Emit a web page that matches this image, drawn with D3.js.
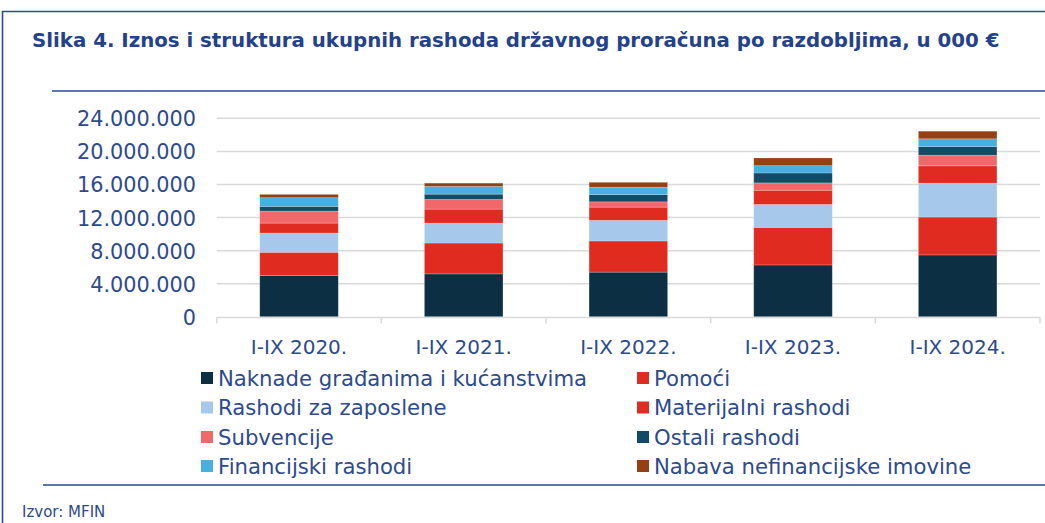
<!DOCTYPE html>
<html>
<head>
<meta charset="utf-8">
<script src="https://cdn.jsdelivr.net/npm/d3@7"></script>
<style>
  html, body { margin: 0; padding: 0; background: #ffffff; }
  svg { display: block; }
</style>
</head>
<body>
<svg id="chart" width="1045" height="523"></svg>
<script>
// ---- Data (u 000 €) ----
const categories = ["I-IX 2020.", "I-IX 2021.", "I-IX 2022.", "I-IX 2023.", "I-IX 2024."];
const seriesNames = [
  "Naknade građanima i kućanstvima",
  "Pomoći",
  "Rashodi za zaposlene",
  "Materijalni rashodi",
  "Subvencije",
  "Ostali rashodi",
  "Financijski rashodi",
  "Nabava nefinancijske imovine"
];
const naknade     = [5000000, 5190000, 5400000, 6270000, 7480000];
const pomoci      = [2800000, 3730000, 3770000, 4540000, 4580000];
const zaposlene   = [2330000, 2410000, 2490000, 2770000, 4100000];
const materijalni = [1200000, 1690000, 1600000, 1720000, 2100000];
const subvencije  = [1450000, 1170000,  640000,  890000, 1280000];
const ostali      = [ 570000,  640000,  880000, 1200000, 1050000];
const financijski = [1050000,  930000,  880000,  880000,  930000];
const nabava      = [ 400000,  400000,  600000,  930000,  920000];
const yTicks = [0, 4000000, 8000000, 12000000, 16000000, 20000000, 24000000];

const seriesValues = [naknade, pomoci, zaposlene, materijalni, subvencije, ostali, financijski, nabava];
const seriesColors = ["#0d2f43", "#e02c20", "#a6c8ea", "#e02c20", "#f0686a", "#134a66", "#47b0e0", "#953f13"];

const textBlue = "#24418c";
const svg = d3.select("#chart");

// ---- Frame ----
svg.append("path")
  .attr("d", "M2.5,523 L2.5,11.5 L1045,11.5")
  .attr("fill", "none").attr("stroke", "#2a4a94").attr("stroke-width", 1.6);
svg.append("line").attr("x1", 52).attr("x2", 1045).attr("y1", 91).attr("y2", 91)
  .attr("stroke", "#2a4a94").attr("stroke-width", 1.6);
svg.append("line").attr("x1", 43).attr("x2", 1045).attr("y1", 485).attr("y2", 485)
  .attr("stroke", "#2a4a94").attr("stroke-width", 1.6);

// ---- Title ----
const title = svg.append("text")
  .attr("x", 32).attr("y", 47)
  .attr("font-family", "'DejaVu Sans', sans-serif")
  .attr("font-weight", "bold")
  .attr("font-size", 19)
  .attr("fill", textBlue)
  .text("Slika 4. Iznos i struktura ukupnih rashoda državnog proračuna po razdobljima, u 000 €");
{
  const len = title.node().getComputedTextLength();
  title.attr("font-size", 19 * 968 / len);
}

// ---- Scales ----
const x = d3.scaleBand().domain(categories).range([216.7, 1040]).paddingInner(0.523).paddingOuter(0.2615);
const y = d3.scaleLinear().domain([0, 24000000]).range([316.8, 118.3]);

const locale = d3.formatLocale({ decimal: ",", thousands: ".", grouping: [3], currency: ["", " €"] });
const fmt = locale.format(",d");

// ---- Gridlines ----
svg.append("g").selectAll("line").data(yTicks.filter(d => d > 0)).join("line")
  .attr("x1", 216.7).attr("x2", 1040)
  .attr("y1", d => y(d)).attr("y2", d => y(d))
  .attr("stroke", "#d9d9d9").attr("stroke-width", 1.5);

// ---- Y axis labels ----
const yAxis = d3.axisLeft(y).tickValues(yTicks).tickFormat(fmt).tickSize(0).tickPadding(0);
const gy = svg.append("g").attr("transform", "translate(196,0)").call(yAxis);
gy.select(".domain").remove();
gy.selectAll("text")
  .attr("font-family", "'DejaVu Sans', sans-serif")
  .attr("font-size", 20.8)
  .attr("fill", "#2d4a8e")
  .attr("dy", "0.36em");

// ---- Stacked bars ----
const table = categories.map((c, i) => {
  const row = { cat: c };
  seriesNames.forEach((s, j) => { row[s] = seriesValues[j][i]; });
  return row;
});
const stack = d3.stack().keys(seriesNames)(table);
svg.append("g").selectAll("g").data(stack).join("g")
  .attr("fill", (d, i) => seriesColors[i])
  .selectAll("rect").data(d => d).join("rect")
  .attr("x", d => x(d.data.cat))
  .attr("width", x.bandwidth())
  .attr("y", d => y(d[1]))
  .attr("height", d => y(d[0]) - y(d[1]))
  .attr("stroke", "rgba(255,255,255,0.25)")
  .attr("stroke-width", 0.8);

// ---- X axis ----
const boundaries = [216.7].concat(categories.map(c => x(c) + x.bandwidth() / 2 + x.step() / 2));
const gx = svg.append("g");
gx.append("line").attr("x1", 216.7).attr("x2", 1040).attr("y1", 317.5).attr("y2", 317.5)
  .attr("stroke", "#d9d9d9").attr("stroke-width", 1.5);
gx.selectAll("line.tick").data(boundaries).join("line").attr("class", "tick")
  .attr("x1", d => d).attr("x2", d => d).attr("y1", 317.5).attr("y2", 323.5)
  .attr("stroke", "#d9d9d9").attr("stroke-width", 1.5);
const xAxis = d3.axisBottom(x).tickSize(0).tickPadding(0);
const gxl = svg.append("g").attr("transform", "translate(0,347)").call(xAxis);
gxl.select(".domain").remove();
gxl.selectAll("text")
  .attr("font-family", "'DejaVu Sans', sans-serif")
  .attr("font-size", 20)
  .attr("fill", "#2d4a8e")
  .attr("dy", "0.36em");

// ---- Legend ----
const legendCols = [201, 637];
const legendRows = [378, 407.5, 437, 466];
const legend = svg.append("g");
seriesNames.forEach((name, i) => {
  const col = i % 2, row = Math.floor(i / 2);
  const lx = legendCols[col], ly = legendRows[row];
  legend.append("rect").attr("x", lx).attr("y", ly - 6).attr("width", 12).attr("height", 12)
    .attr("fill", seriesColors[i]);
  legend.append("text").attr("x", lx + 17).attr("y", ly).attr("dy", "0.36em")
    .attr("font-family", "'DejaVu Sans', sans-serif")
    .attr("font-size", 21.2)
    .attr("fill", "#2d4a8e")
    .text(name);
});

// ---- Source ----
svg.append("text").attr("x", 22).attr("y", 517)
  .attr("font-family", "'DejaVu Sans', sans-serif")
  .attr("font-size", 15)
  .attr("fill", "#2d4a8e")
  .text("Izvor: MFIN");
</script>
</body>
</html>
